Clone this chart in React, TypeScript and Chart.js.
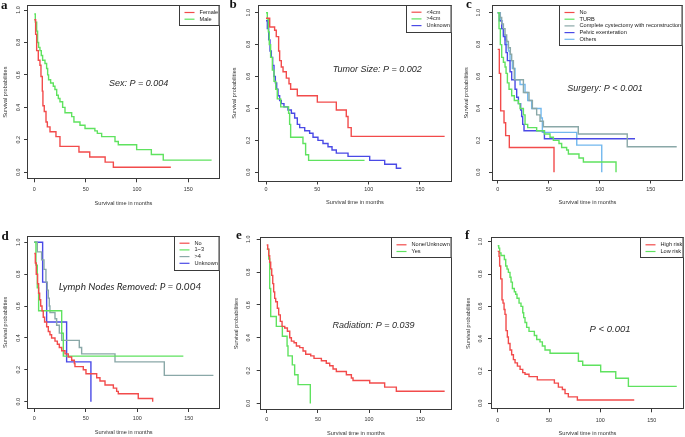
import React, { useEffect, useRef } from 'react';
import { Chart, registerables } from 'chart.js';
Chart.register(...registerables);

// ---------- tick labels ----------
const xTicks = [0, 50, 100, 150];
const yTicks = [0, 0.2, 0.4, 0.6, 0.8, 1.0];
const xTitle = 'Survival time in months';
const yTitle = 'Survival probabilities';

// ---------- colours ----------
const RED = '#f24b4b';
const GREEN = '#5fe25f';
const BLUE = '#4a4ae6';
const GRAY = '#8aa8a8';
const LIGHTBLUE = '#72b8ee';
const AXIS = '#3a3a3a';

// ---------- a: Sex ----------
const femaleT = [0, 1.3, 2.3, 3.9, 5.5, 6.5, 7.8, 8.4, 9.7, 11.4, 12.7, 15.3, 21.1, 25, 43.5, 54, 69, 77, 133];
const femaleS = [0.94, 0.85, 0.75, 0.69, 0.66, 0.59, 0.5, 0.41, 0.375, 0.31, 0.28, 0.25, 0.22, 0.16, 0.125, 0.094, 0.063, 0.031, 0.031];
const maleT = [0, 1, 2.3, 3.2, 4.2, 5.5, 6.8, 8.1, 10.4, 12, 13, 13.9, 15.9, 18.5, 20.1, 21.8, 23.4, 25, 27.6, 29.9, 36.4, 38.6, 44.5, 49.4, 59, 61.4, 65.6, 78.6, 81.8, 99.7, 114, 125.6, 172.7];
const maleS = [0.975, 0.925, 0.87, 0.8, 0.77, 0.75, 0.72, 0.69, 0.67, 0.64, 0.6, 0.57, 0.55, 0.53, 0.51, 0.475, 0.455, 0.435, 0.4, 0.367, 0.343, 0.31, 0.29, 0.27, 0.255, 0.24, 0.22, 0.19, 0.17, 0.14, 0.11, 0.075, 0.075];

// ---------- b: Tumor size ----------
const lt4T = [0, 3.6, 8.4, 10, 12.3, 13.3, 14.9, 16.6, 19.8, 22.4, 24, 30.5, 50, 68.5, 78.2, 79.9, 83, 174];
const lt4S = [0.965, 0.91, 0.89, 0.85, 0.76, 0.7, 0.66, 0.63, 0.59, 0.555, 0.52, 0.48, 0.44, 0.39, 0.35, 0.28, 0.225, 0.225];
const gt4T = [0, 1.3, 2.3, 3.2, 4.5, 6.2, 7.8, 9.5, 11, 14.3, 22, 23, 24, 36, 38.6, 41.5, 96];
const gt4S = [1.0, 0.96, 0.88, 0.8, 0.72, 0.64, 0.57, 0.52, 0.46, 0.41, 0.37, 0.3, 0.22, 0.18, 0.11, 0.075, 0.075];
const sizeUnkT = [0, 1.3, 2.6, 3.9, 5.2, 6.5, 7.8, 9.1, 10.4, 11.7, 13.3, 14.9, 17.5, 21.4, 24.7, 27.9, 30.5, 32.8, 37.7, 42.5, 45.8, 50.6, 55.5, 60.4, 64.3, 68.5, 79.9, 101, 115.6, 127, 131.8];
const sizeUnkS = [0.95, 0.9, 0.83, 0.76, 0.72, 0.67, 0.6, 0.56, 0.52, 0.48, 0.45, 0.43, 0.41, 0.39, 0.37, 0.34, 0.3, 0.28, 0.26, 0.245, 0.22, 0.2, 0.18, 0.16, 0.14, 0.12, 0.1, 0.075, 0.05, 0.025, 0.025];

// ---------- c: Surgery ----------
const surgNoT = [0, 1.6, 2.9, 6.2, 7.8, 11.4, 55.2];
const surgNoS = [0.77, 0.62, 0.385, 0.31, 0.23, 0.155, 0];
const turbT = [0, 1.3, 2.6, 3.9, 5.6, 7.2, 8.2, 9.5, 11.1, 13.7, 16.3, 20.3, 21.9, 25.2, 26.8, 29.4, 38.2, 45.8, 51.3, 54.6, 60.1, 62.7, 67.6, 69.3, 79.7, 84, 116];
const turbS = [1.0, 0.9, 0.8, 0.72, 0.69, 0.66, 0.62, 0.56, 0.52, 0.48, 0.45, 0.43, 0.4, 0.36, 0.3, 0.28, 0.26, 0.24, 0.22, 0.2, 0.18, 0.155, 0.14, 0.115, 0.09, 0.065, 0];
const cystT = [0, 2.3, 3.9, 5.6, 7.2, 8.8, 10.5, 12.4, 13.7, 15.4, 16.3, 25.2, 30.7, 34, 38.2, 41.5, 44.8, 79, 127, 175.5];
const cystS = [1.0, 0.97, 0.93, 0.9, 0.86, 0.82, 0.78, 0.74, 0.7, 0.65, 0.58, 0.5, 0.45, 0.4, 0.36, 0.32, 0.285, 0.24, 0.16, 0.16];
const pelvT = [0, 1.6, 3.9, 5.6, 7.2, 8.2, 9.5, 12.1, 13.7, 17, 18.6, 20.3, 22.5, 23.5, 24.5, 25.8, 45.8, 134.6];
const pelvS = [1.0, 0.95, 0.9, 0.85, 0.8, 0.75, 0.7, 0.63, 0.58, 0.52, 0.47, 0.43, 0.39, 0.35, 0.3, 0.26, 0.21, 0.21];
const othT = [0, 2.6, 3.9, 5.6, 7.2, 8.8, 10.5, 12.1, 14.4, 17, 21.9, 26.8, 29.4, 33.3, 42.5, 43.8, 77.5, 102];
const othS = [1.0, 0.95, 0.9, 0.86, 0.83, 0.8, 0.76, 0.7, 0.65, 0.58, 0.55, 0.5, 0.45, 0.4, 0.34, 0.25, 0.17, 0];

// ---------- d: Lymph nodes removed ----------
const lnNoT = [0, 1, 1.9, 3.2, 4.2, 5.2, 6.2, 7.5, 8.7, 10, 12, 13.6, 15.2, 16.8, 20.1, 22.4, 24.3, 26.6, 29.8, 33, 36.3, 38.9, 39.5, 47.6, 50.2, 60.6, 63.8, 68.7, 76.8, 80, 81.6, 101, 115];
const lnNoS = [0.93, 0.87, 0.8, 0.74, 0.68, 0.64, 0.6, 0.57, 0.53, 0.5, 0.47, 0.44, 0.42, 0.4, 0.38, 0.36, 0.34, 0.32, 0.3, 0.28, 0.26, 0.24, 0.22, 0.2, 0.175, 0.15, 0.13, 0.105, 0.085, 0.065, 0.05, 0.02, 0];
const ln13T = [0, 1.6, 2.9, 4.2, 26.6, 28.2, 144.8];
const ln13S = [1.0, 0.857, 0.714, 0.571, 0.429, 0.286, 0.286];
const ln4T = [0, 2.9, 7.1, 9.4, 11.3, 12.6, 13.6, 14.6, 15.2, 20.1, 21.7, 24.3, 26.6, 43.7, 46, 78.4, 126.3, 174];
const ln4S = [1.0, 0.94, 0.89, 0.83, 0.75, 0.7, 0.65, 0.6, 0.56, 0.52, 0.48, 0.43, 0.385, 0.34, 0.3, 0.25, 0.165, 0.165];
const lnUnkT = [0, 8.1, 12, 31.4, 55];
const lnUnkS = [1.0, 0.75, 0.5, 0.25, 0];

// ---------- e: Radiation ----------
const radNoT = [0, 1, 2, 2.9, 3.9, 4.9, 5.9, 6.8, 7.8, 8.8, 10.4, 11.7, 13.3, 15, 17.6, 20.2, 22.5, 24.1, 26.7, 29, 32.2, 35.5, 38.1, 43, 46.2, 53.4, 58.2, 61.5, 64.8, 68, 77.8, 82.7, 84.3, 100.6, 115.2, 126.6, 173.8];
const radNoS = [0.965, 0.94, 0.9, 0.86, 0.82, 0.78, 0.73, 0.68, 0.64, 0.62, 0.58, 0.54, 0.5, 0.47, 0.46, 0.44, 0.4, 0.38, 0.37, 0.35, 0.34, 0.32, 0.3, 0.29, 0.275, 0.26, 0.245, 0.23, 0.21, 0.195, 0.175, 0.155, 0.14, 0.125, 0.1, 0.075, 0.075];
const radYesT = [0, 2, 2.9, 3.9, 9.4, 15.3, 19.9, 20.8, 25, 27.3, 30.6, 42.6];
const radYesS = [0.94, 0.88, 0.7, 0.53, 0.47, 0.41, 0.35, 0.29, 0.235, 0.175, 0.115, 0];

// ---------- f: Risk ----------
const highT = [0, 1.3, 1.9, 2.9, 4.2, 5.2, 6.2, 7.1, 8.1, 9.4, 10.4, 12, 13.6, 15.3, 16.9, 19.2, 21.8, 24.4, 26.6, 30.5, 38.6, 55.2, 59.1, 63, 65.6, 68.8, 77.6, 133];
const highS = [0.94, 0.91, 0.85, 0.77, 0.64, 0.62, 0.58, 0.55, 0.45, 0.41, 0.37, 0.33, 0.3, 0.27, 0.25, 0.23, 0.21, 0.19, 0.18, 0.165, 0.145, 0.125, 0.1, 0.085, 0.06, 0.04, 0.02, 0.02];
const lowT = [0, 1, 1.9, 3.2, 6.5, 7.8, 9.1, 10.4, 12, 13, 14.3, 16.2, 17.5, 18.8, 20.8, 22.7, 24.4, 25.3, 26.6, 28.2, 30.5, 35.7, 38, 41.2, 43.5, 46.1, 51, 78.6, 82.8, 100.3, 115, 127.3, 174.4];
const lowS = [0.975, 0.96, 0.93, 0.915, 0.89, 0.85, 0.83, 0.81, 0.78, 0.75, 0.71, 0.69, 0.675, 0.65, 0.62, 0.6, 0.56, 0.53, 0.5, 0.47, 0.445, 0.42, 0.395, 0.38, 0.355, 0.33, 0.31, 0.26, 0.235, 0.195, 0.155, 0.105, 0.105];

const SANS = '"Liberation Sans", Arial, sans-serif';
const TITLE_SIZE = 5.6;
const TICK_SIZE = 5.4;
const LEG_SIZE = 5.6;

type Series = { label: string; t: number[]; s: number[]; color: string };
type PanelCfg = {
  letter: string;
  letterPos: { x: number; y: number };
  canvas: { x: number; y: number; w: number; h: number };
  box: { l: number; t: number; r: number; b: number };
  x0: number; x150: number; y1: number; y0: number;
  ytickX: number; ytitleX: number; xtickY: number; xtitleY: number;
  series: Series[];
  note: { text: string; t: number; s: number; font: string };
};

const NOTE_FONT = `italic 9px ${SANS}`;

const panels: PanelCfg[] = [
  {
    letter: 'a', letterPos: { x: 1, y: 9 },
    canvas: { x: 0, y: 0, w: 228, h: 218 },
    box: { l: 27, t: 5, r: 220, b: 179.3 },
    x0: 34.3, x150: 188.3, y1: 10, y0: 172.3,
    ytickX: 19, ytitleX: 5, xtickY: 189.7, xtitleY: 203.3,
    series: [
      { label: 'Female', t: femaleT, s: femaleS, color: RED },
      { label: 'Male', t: maleT, s: maleS, color: GREEN },
    ],
    note: { text: 'Sex: P = 0.004', t: 101.7, s: 0.548, font: NOTE_FONT },
  },
  {
    letter: 'b', letterPos: { x: 229.5, y: 7.5 },
    canvas: { x: 228, y: 0, w: 228, h: 218 },
    box: { l: 258, t: 4.7, r: 452, b: 181.5 },
    x0: 266, x150: 420, y1: 12.7, y0: 172.3,
    ytickX: 249, ytitleX: 234, xtickY: 189.3, xtitleY: 202.3,
    series: [
      { label: '<4cm', t: lt4T, s: lt4S, color: RED },
      { label: '>4cm', t: gt4T, s: gt4S, color: GREEN },
      { label: 'Unknown', t: sizeUnkT, s: sizeUnkS, color: BLUE },
    ],
    note: { text: 'Tumor Size: P = 0.002', t: 108.4, s: 0.641, font: NOTE_FONT },
  },
  {
    letter: 'c', letterPos: { x: 466, y: 7.5 },
    canvas: { x: 456, y: 0, w: 229, h: 218 },
    box: { l: 492, t: 5, r: 683, b: 180.5 },
    x0: 497.7, x150: 650.7, y1: 12.7, y0: 172.3,
    ytickX: 479, ytitleX: 466, xtickY: 189.3, xtitleY: 202.3,
    series: [
      { label: 'No', t: surgNoT, s: surgNoS, color: RED },
      { label: 'TURB', t: turbT, s: turbS, color: GREEN },
      { label: 'Complete cystectomy with reconstruction', t: cystT, s: cystS, color: GRAY },
      { label: 'Pelvic exenteration', t: pelvT, s: pelvS, color: BLUE },
      { label: 'Others', t: othT, s: othS, color: LIGHTBLUE },
    ],
    note: { text: 'Surgery: P < 0.001', t: 105.2, s: 0.522, font: NOTE_FONT },
  },
  {
    letter: 'd', letterPos: { x: 1.5, y: 239.5 },
    canvas: { x: 0, y: 218, w: 228, h: 219 },
    box: { l: 27.3, t: 235.7, r: 220, b: 409 },
    x0: 34.3, x150: 188.7, y1: 242.3, y0: 401.7,
    ytickX: 19, ytitleX: 5, xtickY: 418.5, xtitleY: 432,
    series: [
      { label: 'No', t: lnNoT, s: lnNoS, color: RED },
      { label: '1~3', t: ln13T, s: ln13S, color: GREEN },
      { label: '>4', t: ln4T, s: ln4S, color: GRAY },
      { label: 'Unknown', t: lnUnkT, s: lnUnkS, color: BLUE },
    ],
    note: { text: 'Lymph Nodes Removed: P = 0.004', t: 93, s: 0.721, font: 'italic 10px Lato, "Open Sans", sans-serif' },
  },
  {
    letter: 'e', letterPos: { x: 236, y: 239 },
    canvas: { x: 228, y: 218, w: 228, h: 219 },
    box: { l: 259.7, t: 237.3, r: 452, b: 410 },
    x0: 266.7, x150: 420.3, y1: 239.3, y0: 403.5,
    ytickX: 249, ytitleX: 236.3, xtickY: 420, xtitleY: 433.3,
    series: [
      { label: 'None/Unknown', t: radNoT, s: radNoS, color: RED },
      { label: 'Yes', t: radYesT, s: radYesS, color: GREEN },
    ],
    note: { text: 'Radiation: P = 0.039', t: 104.3, s: 0.478, font: NOTE_FONT },
  },
  {
    letter: 'f', letterPos: { x: 465, y: 239 },
    canvas: { x: 456, y: 218, w: 229, h: 219 },
    box: { l: 491, t: 237.3, r: 684, b: 409.3 },
    x0: 497.7, x150: 651.7, y1: 241.7, y0: 403.3,
    ytickX: 481, ytitleX: 468, xtickY: 420.7, xtitleY: 433.3,
    series: [
      { label: 'High risk', t: highT, s: highS, color: RED },
      { label: 'Low risk', t: lowT, s: lowS, color: GREEN },
    ],
    note: { text: 'P < 0.001', t: 109.4, s: 0.46, font: `italic 9.5px ${SANS}` },
  },
];

function Panel({ cfg }: { cfg: PanelCfg }) {
  const ref = useRef<HTMLCanvasElement | null>(null);
  const C = cfg.canvas;
  useEffect(() => {
    const cv = ref.current;
    if (!cv) return;
    const B = cfg.box;
    const kx = (cfg.x150 - cfg.x0) / 150;
    const ky = cfg.y0 - cfg.y1;
    const xmin = (B.l - cfg.x0) / kx;
    const xmax = (B.r - cfg.x0) / kx;
    const ymin = -(B.b - cfg.y0) / ky;
    const ymax = 1 + (cfg.y1 - B.t) / ky;
    const lh = TITLE_SIZE * 1.2;
    const yW = B.l - (cfg.ytitleX - lh / 2);
    const xH = cfg.xtitleY + lh / 2 - B.b;
    const padding = {
      left: B.l - yW - C.x,
      top: B.t - C.y,
      right: C.x + C.w - B.r,
      bottom: C.y + C.h - B.b - xH,
    };

    const decor = {
      id: 'kmDecor',
      afterDraw(chart: any) {
        const ctx = chart.ctx as CanvasRenderingContext2D;
        const ca = chart.chartArea;
        const xs = chart.scales.x;
        const ys = chart.scales.y;
        ctx.save();
        // plot frame
        ctx.strokeStyle = AXIS;
        ctx.lineWidth = 1;
        ctx.strokeRect(Math.round(ca.left) + 0.5, Math.round(ca.top) + 0.5, Math.round(ca.right - ca.left) - 1, Math.round(ca.bottom - ca.top) - 1);
        // tick labels
        ctx.fillStyle = '#333';
        ctx.font = `${TICK_SIZE}px ${SANS}`;
        ctx.textAlign = 'center';
        ctx.textBaseline = 'middle';
        for (const v of xTicks) {
          ctx.fillText(String(v), xs.getPixelForValue(v), cfg.xtickY - C.y);
        }
        for (const v of yTicks) {
          ctx.save();
          ctx.translate(cfg.ytickX - C.x, ys.getPixelForValue(v));
          ctx.rotate(-Math.PI / 2);
          ctx.fillText(v.toFixed(1), 0, 0);
          ctx.restore();
        }
        // legend (top right, inside the frame)
        ctx.font = `${LEG_SIZE}px ${SANS}`;
        const labels = chart.data.datasets.map((d: any) => d.label as string);
        const maxW = Math.max(...labels.map((l: string) => ctx.measureText(l).width));
        const rowH = 6.7;
        const w = 20 + maxW + 2.5;
        const h = 7.5 + (labels.length - 1) * rowH + 6;
        const lx = Math.round(ca.right - w) + 0.5;
        const ly = Math.round(ca.top) + 0.5;
        ctx.fillStyle = '#fff';
        ctx.fillRect(lx, ly, Math.round(ca.right) - 0.5 - lx, Math.round(h));
        ctx.strokeStyle = AXIS;
        ctx.lineWidth = 1;
        ctx.strokeRect(lx, ly, Math.round(ca.right) - 1 - lx, Math.round(h));
        chart.data.datasets.forEach((d: any, i: number) => {
          const yy = ca.top + 7.5 + i * rowH;
          ctx.strokeStyle = d.borderColor;
          ctx.lineWidth = 1.2;
          ctx.beginPath();
          ctx.moveTo(lx + 5, yy);
          ctx.lineTo(lx + 15, yy);
          ctx.stroke();
          ctx.fillStyle = '#222';
          ctx.textAlign = 'left';
          ctx.fillText(d.label, lx + 20, yy);
        });
        // annotation
        ctx.font = cfg.note.font;
        ctx.fillStyle = '#2a2a2a';
        ctx.textAlign = 'center';
        ctx.fillText(cfg.note.text, xs.getPixelForValue(cfg.note.t), ys.getPixelForValue(cfg.note.s));
        ctx.restore();
      },
    };

    const titleFont = { size: TITLE_SIZE, family: SANS, lineHeight: 1.2 };
    const chart = new Chart(cv, {
      type: 'line',
      data: {
        datasets: cfg.series.map((s) => ({
          label: s.label,
          data: s.t.map((x, i) => ({ x, y: s.s[i] })),
          borderColor: s.color,
          backgroundColor: s.color,
          borderWidth: 1.4,
          pointRadius: 0,
          stepped: true,
          fill: false,
        })),
      },
      options: {
        animation: false,
        responsive: false,
        maintainAspectRatio: false,
        events: [],
        layout: { padding },
        plugins: { legend: { display: false }, tooltip: { enabled: false } },
        scales: {
          x: {
            type: 'linear',
            min: xmin,
            max: xmax,
            afterBuildTicks: (s: any) => { s.ticks = xTicks.map((v) => ({ value: v })); },
            afterFit: (s: any) => { s.height = xH; s.paddingLeft = 0; s.paddingRight = 0; s.paddingTop = 0; s.paddingBottom = 0; },
            ticks: { display: false },
            grid: { drawOnChartArea: false, drawTicks: true, tickLength: 3, color: AXIS, lineWidth: 1 },
            border: { display: false },
            title: { display: true, text: xTitle, padding: 0, font: titleFont, color: '#333' },
          },
          y: {
            type: 'linear',
            min: ymin,
            max: ymax,
            afterBuildTicks: (s: any) => { s.ticks = yTicks.map((v) => ({ value: v })); },
            afterFit: (s: any) => { s.width = yW; s.paddingLeft = 0; s.paddingRight = 0; s.paddingTop = 0; s.paddingBottom = 0; },
            ticks: { display: false },
            grid: { drawOnChartArea: false, drawTicks: true, tickLength: 3, color: AXIS, lineWidth: 1 },
            border: { display: false },
            title: { display: true, text: yTitle, padding: 0, font: titleFont, color: '#333' },
          },
        },
      } as any,
      plugins: [decor],
    });
    return () => chart.destroy();
  }, [cfg]);
  return (
    <canvas
      ref={ref}
      width={C.w}
      height={C.h}
      style={{ position: 'absolute', left: C.x, top: C.y, width: C.w, height: C.h }}
    />
  );
}

export default function App() {
  return (
    <div style={{ position: 'fixed', left: 0, top: 0, width: 685, height: 437, background: '#fff', overflow: 'hidden' }}>
      {panels.map((p) => (
        <Panel key={p.letter} cfg={p} />
      ))}
      {panels.map((p) => (
        <span
          key={'l' + p.letter}
          style={{
            position: 'absolute',
            left: p.letterPos.x,
            top: p.letterPos.y - 11,
            font: 'bold 13px "Liberation Serif", "DejaVu Serif", serif',
            lineHeight: '13px',
            color: '#111',
          }}
        >
          {p.letter}
        </span>
      ))}
    </div>
  );
}
